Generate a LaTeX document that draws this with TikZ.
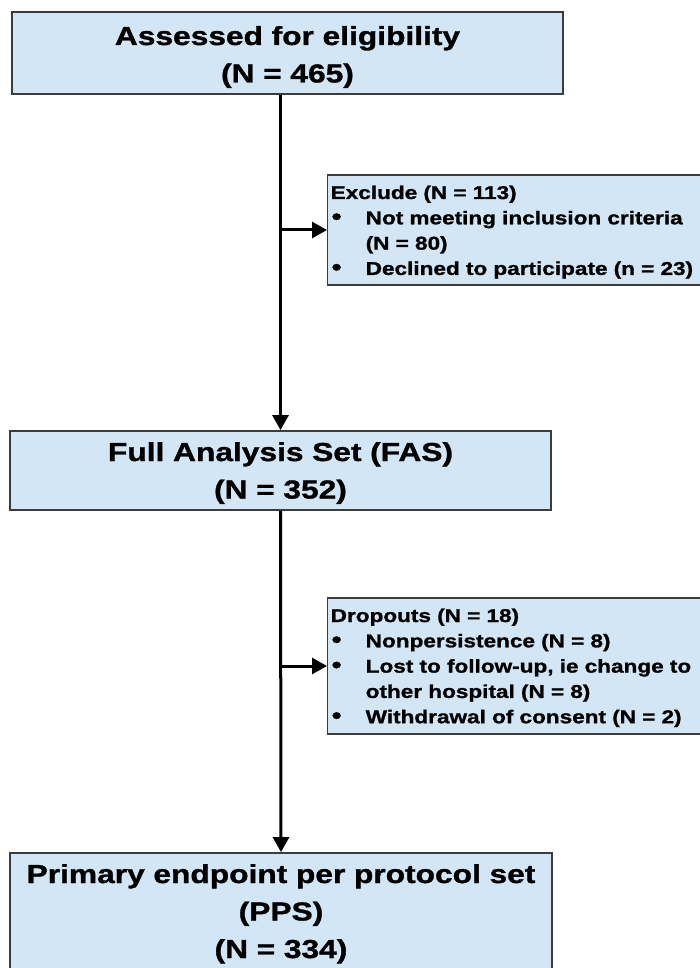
\documentclass[tikz,border=0pt]{standalone}
\usepackage{fontspec}
\setmainfont{Liberation Sans}[FakeStretch=1.22, BoldFeatures={FakeBold=1.2}]
\usetikzlibrary{arrows.meta}
\definecolor{boxblue}{RGB}{210,230,245}
\definecolor{boxline}{RGB}{60,60,60}
\tikzset{
	mainbox/.style={draw=boxline, line width=1.8pt, fill=boxblue, align=center,
		font=\fontsize{26}{37.5}\selectfont\bfseries, inner sep=0pt, text width=530pt},
	sidebox/.style={draw=boxline, line width=1.4pt, fill=boxblue, align=left,
		font=\fontsize{18.5}{25.3}\selectfont\bfseries, inner xsep=3pt, inner ysep=0pt,
		anchor=west, text width=380pt},
	flow/.style={line width=3pt, -{Triangle[length=15pt, width=16pt]}},
}
\newcommand{\itm}{\makebox[35pt][l]{\hspace*{1pt}{\fontsize{23}{0}\selectfont\textbullet}}}
\newcommand{\ind}{\hspace*{35pt}}
\begin{document}
\begin{tikzpicture}[x=1pt, y=-1pt]
		\useasboundingbox (0,0) rectangle (700,968);
		\clip (0,0) rectangle (700,968);
		\fill[white] (0,0) rectangle (700,968);
		
		% main boxes
		\node[mainbox, minimum width=551pt, text height=33pt, text depth=49pt] (elig) at (287.5,53) {Assessed for eligibility\\(N = 465)};
		\node[mainbox, minimum width=541pt, text height=30pt, text depth=49pt] (fas) at (280.5,470.5) {Full Analysis Set (FAS)\\(N = 352)};
		\node[mainbox, minimum width=542pt, text height=30pt, text depth=95pt] (pps) at (281,915.5) {Primary endpoint per protocol set\\(PPS)\\(N = 334)};
		
		% side boxes
		\node[sidebox, text height=24pt, text depth=86pt] (excl) at (327,230) {Exclude (N = 113)\\
			\itm Not meeting inclusion criteria\\
			\ind (N = 80)\\
			\itm Declined to participate (n = 23)};
		\node[sidebox, text height=24pt, text depth=112pt] (drop) at (327,666) {Dropouts (N = 18)\\
			\itm Nonpersistence (N = 8)\\
			\itm Lost to follow-up, ie change to\\
			\ind other hospital (N = 8)\\
			\itm Withdrawal of consent (N = 2)};
		
		\draw[flow] (elig.south -| fas.north) -- (fas.north);
		\draw[flow] (excl.west -| fas.north) -- (excl.west);
		\draw[flow] (fas.south) -- (pps.north);
		\draw[flow] (drop.west -| fas.south) -- (drop.west);
		
	\end{tikzpicture}
\end{document}
